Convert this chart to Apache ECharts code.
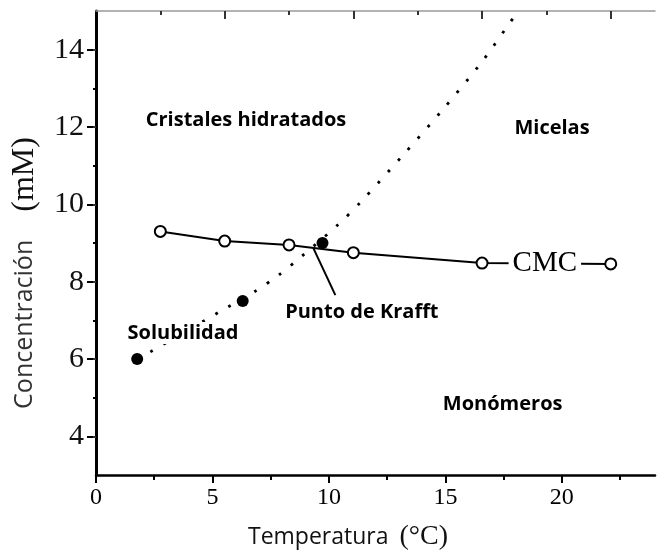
<!DOCTYPE html>
<html>
<head>
<meta charset="utf-8">
<script src="https://cdn.jsdelivr.net/npm/echarts@6/dist/echarts.min.js"></script>
<style>
  html, body { margin: 0; padding: 0; background: #fff; }
  #chart { width: 657px; height: 554px; }
</style>
</head>
<body>
<div id="chart"></div>
<script>
// Tick labels
const tempTickLabels = [0, 5, 10, 15, 20];
const concTickLabels = [4, 6, 8, 10, 12, 14];

// CMC curve (open circles), temperature in °C, concentration in mM
const cmcTemp = [2.5, 5, 7.5, 10, 15, 20];
const cmcConc = [9.3, 9.05, 8.95, 8.75, 8.48, 8.46];

// Measured solubility points (filled circles)
const solTemp = [1.6, 5.7, 8.8];
const solConc = [6.0, 7.5, 9.0];

// Solubility curve (dotted)
const solCurveTemp = [1.6, 2.1, 3.5, 4.8, 6.2, 7.1, 8.0, 9.4, 10.3, 11.9, 13.5, 15.0, 16.0, 16.4];
const solCurveConc = [6.0, 6.18, 6.72, 7.22, 7.76, 8.17, 8.66, 9.47, 10.07, 11.25, 12.47, 13.69, 14.62, 15.0];

// Pointer from the Krafft point to its label
const krafftTemp = [8.45, 9.3];
const krafftConc = [8.86, 7.65];

// Region names and their anchors (temperature, concentration)
const regionNames = ['Cristales hidratados', 'Micelas', 'Solubilidad', 'Punto de Krafft', 'Monómeros'];
const regionTemp = [5.83, 17.72, 3.38, 10.33, 15.8];
const regionConc = [12.18, 11.97, 6.67, 7.22, 4.84];

const pairs = (xs, ys) => xs.map((x, i) => [x, ys[i]]);

const SERIF = "'Liberation Serif', 'DejaVu Serif', serif";
const SANS = "'Open Sans', 'Noto Sans', sans-serif";

const chart = echarts.init(document.getElementById('chart'), null, { renderer: 'canvas' });

const hidden = { show: false };

const option = {
  backgroundColor: '#fff',
  animation: false,
  grid: { left: 96, right: 2, top: 11, bottom: 79, containLabel: false, outerBoundsMode: 'none' },
  xAxis: [
    { // bottom: major ticks + labels
      type: 'value', position: 'bottom', min: 0, max: 24,
      splitLine: hidden,
      axisLine: { show: true, lineStyle: { color: '#000', width: 2.5 } },
      axisTick: { show: true, customValues: [0, 5, 10, 15, 20], length: 8, lineStyle: { color: '#000', width: 2 } },
      axisLabel: {
        customValues: tempTickLabels, margin: 11,
        fontFamily: SERIF, fontSize: 24, color: '#000'
      }
    },
    { // bottom: minor ticks
      type: 'value', position: 'bottom', min: 0, max: 24, offset: 0,
      splitLine: hidden,
      axisLine: hidden,
      axisTick: { show: true, customValues: [2.5, 7.5, 12.5, 17.5, 22.5], length: 5, lineStyle: { color: '#000', width: 2 } },
      axisLabel: hidden
    },
    { // top: data scale, major ticks
      type: 'value', position: 'top', min: 0, max: 21.72,
      splitLine: hidden,
      axisLine: { show: true, lineStyle: { color: '#999', width: 1.5 } },
      axisTick: { show: true, inside: true, customValues: [5, 10, 15, 20], length: 8, lineStyle: { color: '#333', width: 2 } },
      axisLabel: hidden
    },
    { // top: minor ticks
      type: 'value', position: 'top', min: 0, max: 21.72, offset: 0,
      splitLine: hidden,
      axisLine: hidden,
      axisTick: { show: true, inside: true, customValues: [2.5, 7.5, 12.5, 17.5], length: 4, lineStyle: { color: '#333', width: 2 } },
      axisLabel: hidden
    }
  ],
  yAxis: [
    { // left: major ticks + labels
      type: 'value', position: 'left', min: 3, max: 15,
      splitLine: hidden,
      axisLine: { show: true, lineStyle: { color: '#000', width: 3 } },
      axisTick: { show: true, customValues: [4, 6, 8, 10, 12, 14], length: 9, lineStyle: { color: '#000', width: 2 } },
      axisLabel: {
        customValues: concTickLabels, margin: 12,
        fontFamily: SERIF, fontSize: 30, color: '#111'
      }
    },
    { // left: minor ticks
      type: 'value', position: 'left', min: 3, max: 15, offset: 0,
      splitLine: hidden,
      axisLine: hidden,
      axisTick: { show: true, customValues: [5, 7, 9, 11, 13], length: 3, lineStyle: { color: '#000', width: 2 } },
      axisLabel: hidden
    },
    { // right: inner ticks only
      type: 'value', position: 'right', min: 3, max: 15,
      splitLine: hidden,
      axisLine: hidden,
      axisTick: { show: true, inside: true, customValues: [4, 6, 8, 10, 12, 14], length: 3, lineStyle: { color: '#333', width: 2 } },
      axisLabel: hidden
    }
  ],
  series: [
    {
      name: 'Solubilidad (curva)', type: 'line',
      xAxisIndex: 2, yAxisIndex: 0,
      data: pairs(solCurveTemp, solCurveConc),
      showSymbol: false, symbol: 'none', smooth: 0.3,
      lineStyle: { color: '#000', width: 2.8, type: [2.8, 12.2], cap: 'butt' },
      z: 2
    },
    {
      name: 'CMC', type: 'line',
      xAxisIndex: 2, yAxisIndex: 0,
      data: pairs(cmcTemp, cmcConc),
      symbol: 'circle', symbolSize: 11, showSymbol: true,
      itemStyle: { color: '#fff', borderColor: '#000', borderWidth: 2 },
      lineStyle: { color: '#000', width: 2 },
      z: 3
    },
    {
      name: 'Krafft', type: 'line',
      xAxisIndex: 2, yAxisIndex: 0,
      data: pairs(krafftTemp, krafftConc),
      symbol: 'none',
      lineStyle: { color: '#000', width: 2 },
      z: 3
    },
    {
      name: 'Solubilidad', type: 'scatter',
      xAxisIndex: 2, yAxisIndex: 0,
      data: pairs(solTemp, solConc),
      symbol: 'circle', symbolSize: 12,
      itemStyle: { color: '#000', opacity: 1 },
      z: 4
    },
    {
      name: 'CMC etiqueta', type: 'scatter',
      xAxisIndex: 2, yAxisIndex: 0,
      data: [[17.44, 8.48]],
      symbolSize: 0,
      itemStyle: { opacity: 1 },
      label: {
        show: true, position: 'inside', formatter: 'CMC',
        fontFamily: SERIF, fontSize: 29, color: '#000',
        backgroundColor: '#fff', padding: [0, 4]
      },
      z: 10
    },
    {
      name: 'Regiones', type: 'scatter',
      xAxisIndex: 2, yAxisIndex: 0,
      data: regionNames.map((n, i) => ({ value: [regionTemp[i], regionConc[i]], name: n })),
      symbolSize: 0,
      itemStyle: { opacity: 1 },
      label: {
        show: true, position: 'inside', formatter: p => p.name,
        fontFamily: SANS, fontWeight: 'bold', fontSize: 20, color: '#000',
        backgroundColor: '#fff', padding: [1, 2]
      },
      z: 10
    }
  ],
  graphic: [
    {
      type: 'text', x: 25, y: 273, rotation: Math.PI / 2,
      style: {
        text: '{s|Concentración}{r|(mM)}',
        align: 'center', verticalAlign: 'middle',
        rich: {
          s: { fontFamily: SANS, fontSize: 25, fill: '#333' },
          r: { fontFamily: SERIF, fontSize: 32, fill: '#111', padding: [0, 0, 0, 28] }
        }
      }
    },
    {
      type: 'text', x: 348, y: 537,
      style: {
        text: '{s|Temperatura}{r|(°C)}',
        align: 'center', verticalAlign: 'middle',
        rich: {
          s: { fontFamily: SANS, fontSize: 23, fill: '#111' },
          r: { fontFamily: SERIF, fontSize: 28, fill: '#111', padding: [0, 0, 0, 11] }
        }
      }
    }
  ]
};

chart.setOption(option);
</script>
</body>
</html>
